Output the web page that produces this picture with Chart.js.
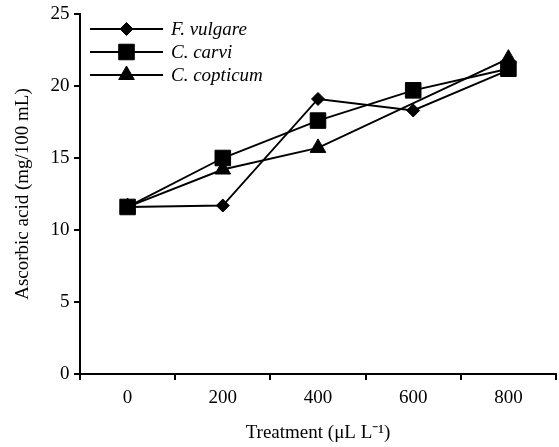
<!DOCTYPE html>
<html>
<head>
<meta charset="utf-8">
<script src="https://cdn.jsdelivr.net/npm/chart.js@4.4.1/dist/chart.umd.min.js"></script>
<style>
    html, body { margin: 0; padding: 0; background: #fff; overflow: hidden; }
    /* a little wider than the window: the label padding Chart.js reserves on the right falls outside */
    #wrap { width: 568px; height: 447px; position: relative; }
</style>
</head>
<body>
<div id="wrap"><canvas id="chart-ascorbic"></canvas></div>
<script>
// Treatment doses (µL L-1) and ascorbic acid content (mg/100 mL)
const treatments = ['0', '200', '400', '600', '800'];
const fVulgare  = [11.6, 11.7, 19.1, 18.3, 21.1];
const cCarvi    = [11.6, 15.0, 17.6, 19.7, 21.2];
const cCopticum = [11.6, 14.2, 15.7, null, 21.9];
const yTicks    = [0, 5, 10, 15, 20, 25];

const SERIF = '"Liberation Serif", "Times New Roman", serif';

// Legend drawn inside the plot: short line with the marker on top of it
const lineLegend = {
    id: 'lineLegend',
    afterDatasetsDraw(chart) {
        const { ctx, chartArea } = chart;
        const x0 = chartArea.left + 10;
        const x1 = chartArea.left + 83;
        const xm = (x0 + x1) / 2;
        ctx.save();
        chart.data.datasets.forEach((ds, i) => {
            const y = chartArea.top + 15 + i * 23;
            ctx.strokeStyle = '#000';
            ctx.lineWidth = ds.borderWidth;
            ctx.beginPath();
            ctx.moveTo(x0, y);
            ctx.lineTo(x1, y);
            ctx.stroke();
            ctx.fillStyle = '#000';
            ctx.lineWidth = 1;
            Chart.helpers.drawPoint(ctx, {
                pointStyle: ds.pointStyle,
                radius: ds.pointRadius,
                rotation: 0,
                borderWidth: 1
            }, xm, y);
            ctx.font = 'italic 19px ' + SERIF;
            ctx.textAlign = 'left';
            ctx.textBaseline = 'middle';
            ctx.fillText(ds.label, x1 + 8, y + 1);
        });
        ctx.restore();
    }
};

const series = (label, data, style, radius) => ({
    label: label,
    data: data,
    borderColor: '#000',
    backgroundColor: '#000',
    borderWidth: 1.9,
    pointStyle: style,
    pointRadius: radius,
    pointHoverRadius: radius,
    pointBorderWidth: 1,
    pointBackgroundColor: '#000',
    pointBorderColor: '#000',
    tension: 0,
    spanGaps: true
});

new Chart(document.getElementById('chart-ascorbic'), {
    type: 'line',
    data: {
        labels: treatments,
        datasets: [
            series('F. vulgare', fVulgare, 'rectRot', 6.5),
            series('C. carvi', cCarvi, 'rect', 11),
            series('C. copticum', cCopticum, 'triangle', 9)
        ]
    },
    options: {
        responsive: true,
        maintainAspectRatio: false,
        animation: false,
        layout: { padding: { top: 10, right: 4, left: 0, bottom: 0 } },
        plugins: {
            legend: { display: false },
            tooltip: { enabled: false }
        },
        scales: {
            x: {
                offset: true,
                afterFit: (s) => { s.height = 73; },
                grid: {
                    offset: true,
                    drawOnChartArea: false,
                    drawTicks: true,
                    tickLength: 6,
                    color: '#000',
                    lineWidth: 2
                },
                border: { display: true, color: '#000', width: 2 },
                ticks: {
                    color: '#000',
                    padding: 7,
                    maxRotation: 0,
                    font: { family: SERIF, size: 19 }
                },
                title: {
                    display: true,
                    text: 'Treatment (μL L⁻¹)',
                    color: '#000',
                    padding: { top: 4, bottom: 3 },
                    font: { family: SERIF, size: 19 }
                }
            },
            y: {
                min: 0,
                max: 25,
                afterFit: (s) => { s.width = 80; },
                afterBuildTicks: (s) => { s.ticks = yTicks.map(v => ({ value: v })); },
                grid: {
                    drawOnChartArea: false,
                    drawTicks: true,
                    tickLength: 6,
                    color: '#000',
                    lineWidth: 2
                },
                border: { display: true, color: '#000', width: 2 },
                ticks: {
                    color: '#000',
                    padding: 4.5,
                    font: { family: SERIF, size: 19, lineHeight: 1 }
                },
                title: {
                    display: true,
                    text: 'Ascorbic acid (mg/100 mL)',
                    color: '#000',
                    padding: { top: 12, bottom: 0 },
                    font: { family: SERIF, size: 19 }
                }
            }
        }
    },
    plugins: [lineLegend]
});
</script>
</body>
</html>
